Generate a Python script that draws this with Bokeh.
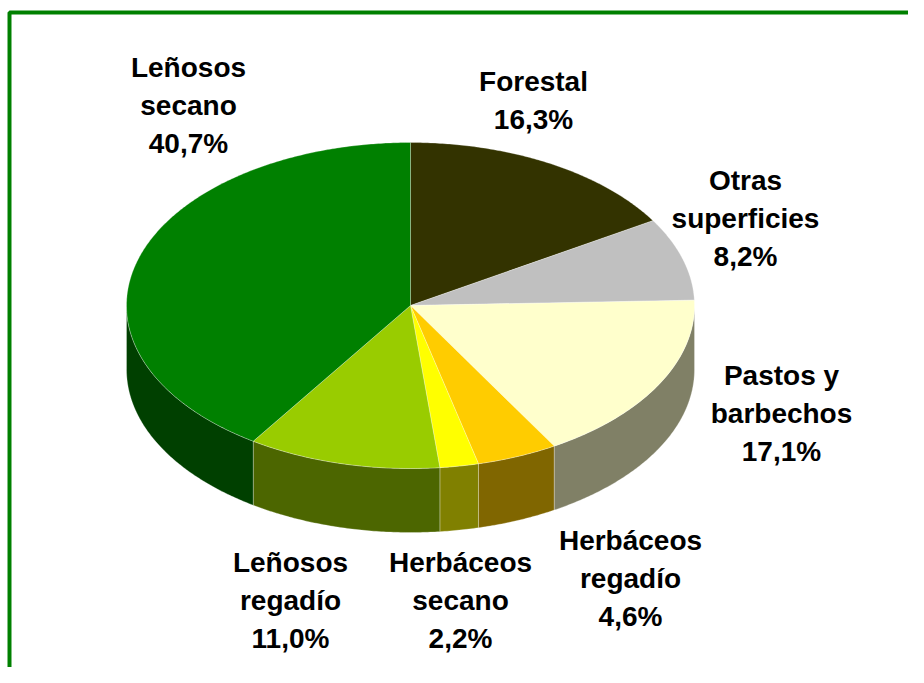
import numpy as np
from bokeh.plotting import figure
from bokeh.models import Range1d, BoxAnnotation, ColumnDataSource
from bokeh.embed import file_html
from bokeh.resources import INLINE
from bokeh.core.properties import value

# ---- data ----
categories = ["Forestal", "Otras superficies", "Pastos y barbechos",
              "Herbáceos regadío", "Herbáceos secano", "Leñosos regadío",
              "Leñosos secano"]
label_names = ["Forestal", "Otras\nsuperficies", "Pastos y\nbarbechos",
               "Herbáceos\nregadío", "Herbáceos\nsecano", "Leñosos\nregadío",
               "Leñosos\nsecano"]
shares = [16.3, 8.2, 17.1, 4.6, 2.2, 11.0, 40.7]

# ---- style / layout ----
top_colors = ["#333300", "#C0C0C0", "#FFFFCC", "#FFCC00", "#FFFF00", "#99CC00", "#008000"]
side_colors = ["#1A1A00", "#606060", "#808066", "#806600", "#808000", "#4C6600", "#004000"]
label_x = [533, 745, 781, 630, 460, 290, 188]
label_y = [100, 218, 413, 578, 600, 600, 105]

CX, CY, RX, RY, DEPTH = 410.0, 305.0, 284.0, 163.0, 64.0

vals = np.array(shares, dtype=float)
ends = np.cumsum(vals) / vals.sum() * 360.0
starts = np.concatenate([[0.0], ends[:-1]])


def arc(a0, a1):
    n = max(int(abs(a1 - a0) * 2) + 2, 3)
    t = np.radians(np.linspace(a0, a1, n))
    return CX + RX * np.sin(t), CY - RY * np.cos(t)


top_xs, top_ys, side_xs, side_ys, side_cols = [], [], [], [], []
for a0, a1, sc in zip(starts, ends, side_colors):
    ax, ay = arc(a0, a1)
    top_xs.append(np.concatenate([[CX], ax]).tolist())
    top_ys.append(np.concatenate([[CY], ay]).tolist())
    s0, s1 = max(a0, 90.0), min(a1, 270.0)
    if s0 < s1:
        bx, by = arc(s0, s1)
        side_xs.append(np.concatenate([bx, bx[::-1]]).tolist())
        side_ys.append(np.concatenate([by, (by + DEPTH)[::-1]]).tolist())
        side_cols.append(sc)

p = figure(width=908, height=667, x_range=Range1d(0, 908), y_range=Range1d(667, 0),
           output_backend="svg", toolbar_location=None, min_border=0,
           x_axis_location=None, y_axis_location=None)
p.grid.visible = False
p.outline_line_color = None
p.background_fill_color = "white"
p.border_fill_color = "white"

p.patches(side_xs, side_ys, fill_color=side_cols, line_color="white",
          line_alpha=0.35, line_width=0.8)
p.patches(top_xs, top_ys, fill_color=top_colors, line_color="white",
          line_alpha=0.35, line_width=0.8)

labels = [f"{n}\n{v:.1f}".replace(".", ",") + "%" for n, v in zip(label_names, shares)]
src = ColumnDataSource(dict(x=label_x, y=label_y, text=labels))
p.text(x="x", y="y", text="text", source=src, text_font=value("Liberation Sans"),
       text_font_style="bold", text_font_size="28px", text_align="center",
       text_baseline="middle", text_line_height=1.22, text_color="black")

p.add_layout(BoxAnnotation(left=9, right=3000, top=12, bottom=3000,
                           fill_alpha=0, line_color="#008000", line_alpha=1.0,
                           line_width=4))

open("out.html", "w").write(file_html(p, INLINE))
